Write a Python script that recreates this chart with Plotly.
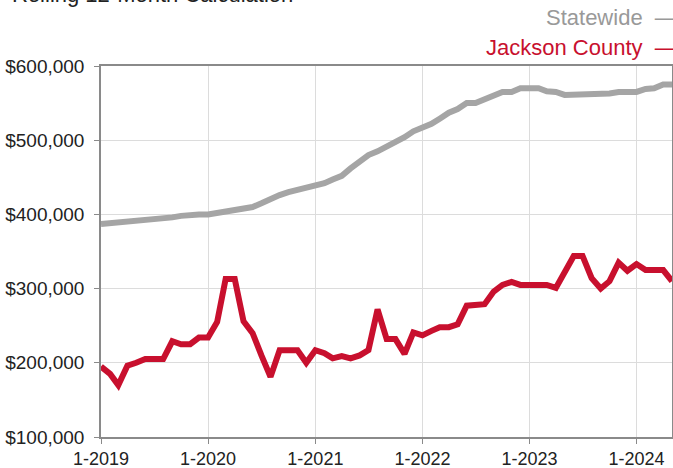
import plotly.graph_objects as go
import pandas as pd

months = pd.date_range("2019-01-01", "2024-05-01", freq="MS")

statewide = [387000, 388000, 389000, 390000, 390000, 391000, 393000, 395000, 396000, 398000,
             400000, 400000, 400000, 402000, 405000, 407000, 408000, 410000, 415000, 421000,
             426000, 430000, 433000, 436000, 440000, 442000, 447000, 452000, 462000, 472000,
             480000, 485000, 491000, 498000, 504000, 512000, 517000, 522000, 529000, 537000,
             542000, 550000, 550000, 555000, 560000, 565000, 565000, 570000, 570000, 570000,
             566000, 565000, 561000, 561000, 561000, 561000, 561000, 563000, 565000, 565000,
             565000, 569000, 570000, 575000, 575000]

jackson = [195000, 185000, 170000, 196000, 200000, 205000, 205000, 205000, 229000, 225000,
           225000, 234000, 234000, 255000, 313000, 313000, 256000, 240000, 210000, 181000,
           217000, 217000, 217000, 200000, 217000, 213000, 206000, 209000, 206000, 210000,
           217000, 272000, 232000, 232000, 212000, 241000, 237000, 243000, 248000, 248000,
           252000, 277000, 277000, 279000, 296000, 305000, 309000, 305000, 305000, 305000,
           305000, 301000, 322000, 344000, 344000, 314000, 300000, 310000, 335000, 324000,
           333000, 325000, 325000, 325000, 310000]

tick_dates = ["2019-01-01", "2020-01-01", "2021-01-01", "2022-01-01", "2023-01-01", "2024-01-01"]
tick_labels = ["1-2019", "1-2020", "1-2021", "1-2022", "1-2023", "1-2024"]

GRAY = "#a5a5a5"
RED = "#c8102e"
FONT = "Liberation Sans"
PW = 571
PH = 371

fig = go.Figure()
fig.add_trace(go.Scatter(x=months, y=statewide, mode="lines", name="Statewide",
                         line=dict(color=GRAY, width=6)))
fig.add_trace(go.Scatter(x=months, y=jackson, mode="lines", name="Jackson County",
                         line=dict(color=RED, width=6)))

fig.update_layout(
    width=673, height=468,
    margin=dict(l=101, r=1, t=66, b=31, autoexpand=False),
    paper_bgcolor="white", plot_bgcolor="white",
    showlegend=False,
    font=dict(family=FONT, size=19, color="#222"),
)
fig.update_xaxes(
    range=[months[0], months[-1]], automargin=False,
    tickvals=pd.to_datetime(tick_dates), ticktext=tick_labels,
    showgrid=True, gridcolor="#dcdcdc", gridwidth=1,
    showline=True, linecolor="#8a8a8a", linewidth=1.5, mirror=True,
    ticks="outside", ticklen=5, tickcolor="#8a8a8a",
    ticklabelstandoff=0,
    tickfont=dict(family=FONT, size=18, color="#222"),
)
fig.update_yaxes(
    range=[100000, 600000], dtick=100000, tickformat="$,.0f", automargin=False,
    showgrid=True, gridcolor="#dcdcdc", gridwidth=1,
    showline=True, linecolor="#8a8a8a", linewidth=1.5, mirror=True,
    ticks="outside", ticklen=5, tickcolor="#8a8a8a",
    ticklabelstandoff=6,
    tickfont=dict(family=FONT, size=19, color="#222"),
    zeroline=False,
)

fig.add_annotation(text="Rolling 12-Month Calculation", xref="paper", yref="paper",
                   x=-101/PW + 10/PW, y=1 + (66 - 9) / PH, xanchor="left", yanchor="bottom",
                   showarrow=False, font=dict(family=FONT, size=22, color="#222"))
fig.add_annotation(text="Statewide\u00a0\u00a0\u2014", xref="paper", yref="paper",
                   x=1 + 7/PW, y=1 + (66 - 17) / PH, xanchor="right", yanchor="middle",
                   showarrow=False, font=dict(family=FONT, size=22, color="#999999"))
fig.add_annotation(text="Jackson County\u00a0\u00a0\u2014", xref="paper", yref="paper",
                   x=1 + 7/PW, y=1 + (66 - 47) / PH, xanchor="right", yanchor="middle",
                   showarrow=False, font=dict(family=FONT, size=22, color=RED))

fig.write_html(
    "out.html",
    config={"displayModeBar": False},
    post_script="document.body.style.margin='0';document.body.style.overflow='hidden';",
)
